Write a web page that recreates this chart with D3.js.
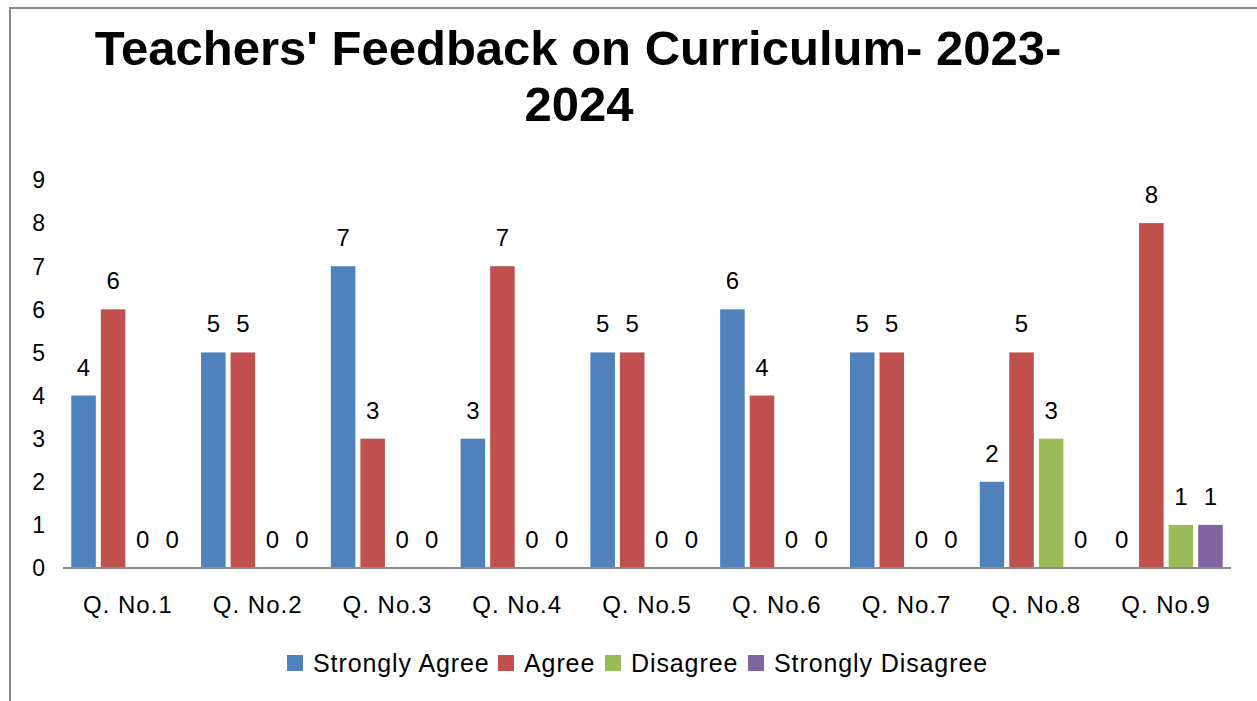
<!DOCTYPE html>
<html>
<head>
<meta charset="utf-8">
<script src="https://cdn.jsdelivr.net/npm/d3@7"></script>
<style>
  body { margin: 0; background: #fff; }
  text { font-family: "Liberation Sans", Arial, sans-serif; fill: #000; }
</style>
</head>
<body>
<div id="chart"></div>
<script>
var questions = ["Q. No.1", "Q. No.2", "Q. No.3", "Q. No.4", "Q. No.5", "Q. No.6", "Q. No.7", "Q. No.8", "Q. No.9"];
var series = ["Strongly Agree", "Agree", "Disagree", "Strongly Disagree"];
var stronglyAgree    = [4, 5, 7, 3, 5, 6, 5, 2, 0];
var agree            = [6, 5, 3, 7, 5, 4, 5, 5, 8];
var disagree         = [0, 0, 0, 0, 0, 0, 0, 3, 1];
var stronglyDisagree = [0, 0, 0, 0, 0, 0, 0, 0, 1];
var yTicks = [0, 1, 2, 3, 4, 5, 6, 7, 8, 9];

var colors = d3.scaleOrdinal(["#4F81BD", "#C0504D", "#9BBB59", "#8064A2"]).domain(series);

var width = 1257, height = 701;

var svg = d3.select("#chart").append("svg")
    .attr("width", width)
    .attr("height", height);

// frame (only top and left edges show in the picture)
svg.append("path")
    .attr("d", "M10,701V8H1257")
    .attr("fill", "none")
    .attr("stroke", "#8a8a8a")
    .attr("stroke-width", 2);

// title
var title = svg.append("text")
    .attr("text-anchor", "middle")
    .style("font-weight", "bold")
    .style("font-size", "49px");
title.append("tspan").attr("x", 578).attr("y", 65).text("Teachers' Feedback on Curriculum- 2023-");
title.append("tspan").attr("x", 579).attr("y", 121).text("2024");

var rows = questions.map((q, i) => ({
  q: q,
  values: [stronglyAgree[i], agree[i], disagree[i], stronglyDisagree[i]]
}));

var x0 = d3.scaleBand().domain(questions).range([63, 1231]).padding(0);
var x1 = d3.scaleBand().domain(series).range([0, x0.bandwidth()])
    .paddingInner(0.17).paddingOuter(0.28);
var y = d3.scaleLinear().domain([0, 9]).range([568, 180]);

// y labels, no axis line
svg.append("g").selectAll("text")
    .data(yTicks)
    .enter().append("text")
    .attr("x", 45)
    .attr("y", d => y(d))
    .attr("dy", "0.36em")
    .attr("text-anchor", "end")
    .style("font-size", "23px")
    .text(d => d);

var groups = svg.append("g").selectAll("g")
    .data(rows)
    .enter().append("g")
    .attr("transform", d => "translate(" + x0(d.q) + ",0)");

groups.selectAll("rect")
    .data(d => d.values.map((v, j) => ({ s: series[j], v: v })))
    .enter().append("rect")
    .attr("x", d => x1(d.s))
    .attr("width", x1.bandwidth())
    .attr("y", d => y(d.v))
    .attr("height", d => y(0) - y(d.v))
    .attr("fill", d => colors(d.s));

groups.selectAll("text.val")
    .data(d => d.values.map((v, j) => ({ s: series[j], v: v })))
    .enter().append("text")
    .attr("class", "val")
    .attr("x", d => x1(d.s) + x1.bandwidth() / 2)
    .attr("y", d => y(d.v) - 20)
    .attr("text-anchor", "middle")
    .style("font-size", "24px")
    .text(d => d.v);

// baseline
svg.append("line")
    .attr("x1", 63).attr("x2", 1231)
    .attr("y1", y(0)).attr("y2", y(0))
    .attr("stroke", "#8a8a8a")
    .attr("stroke-width", 2);

// category labels
svg.append("g").selectAll("text")
    .data(questions)
    .enter().append("text")
    .attr("x", d => x0(d) + x0.bandwidth() / 2)
    .attr("y", 613)
    .attr("text-anchor", "middle")
    .style("font-size", "24px")
    .style("letter-spacing", "1px")
    .text(d => d);

// legend
var legendX = [287, 498, 605, 748];
var legend = svg.append("g").selectAll("g")
    .data(series)
    .enter().append("g")
    .attr("transform", (d, i) => "translate(" + legendX[i] + ",655)");
legend.append("rect")
    .attr("width", 16).attr("height", 16)
    .attr("fill", d => colors(d));
legend.append("text")
    .attr("x", 26).attr("y", 8)
    .attr("dy", "0.36em")
    .style("font-size", "25px")
    .style("letter-spacing", "0.9px")
    .text(d => d);
</script>
</body>
</html>
